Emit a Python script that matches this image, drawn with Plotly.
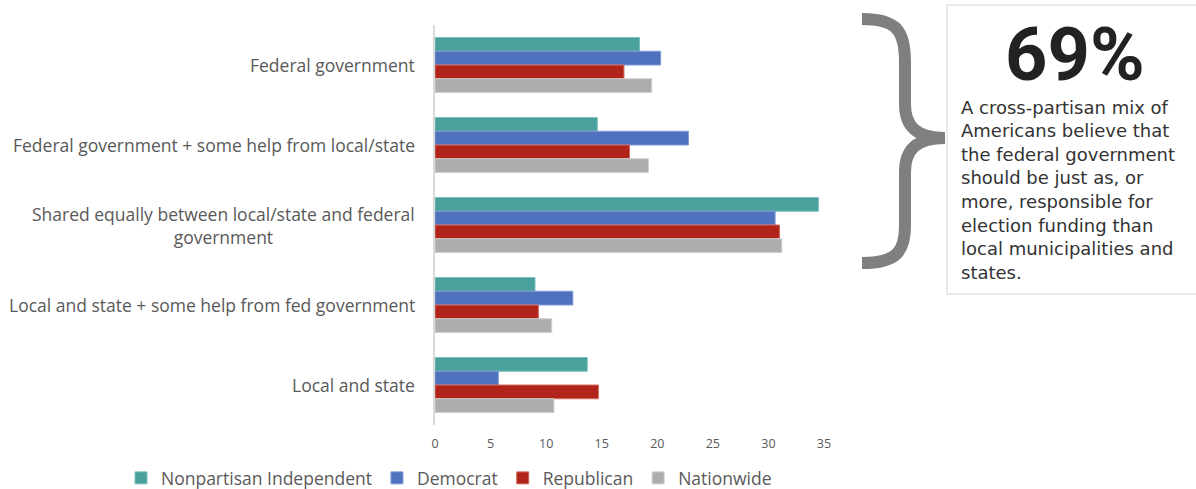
import plotly.graph_objects as go

categories = [
    "Federal government",
    "Federal government + some help from local/state",
    "Shared equally between local/state and federal<br>government",
    "Local and state + some help from fed government",
    "Local and state",
]
series_names = ["Nonpartisan Independent", "Democrat", "Republican", "Nationwide"]
nonpartisan = [18.4, 14.6, 34.5, 9.0, 13.7]
democrat = [20.3, 22.8, 30.6, 12.4, 5.7]
republican = [17.0, 17.5, 31.0, 9.3, 14.7]
nationwide = [19.5, 19.2, 31.2, 10.5, 10.7]
x_ticks = [0, 5, 10, 15, 20, 25, 30, 35]
callout_value = "69%"
callout_lines = [
    "A cross-partisan mix of",
    "Americans believe that",
    "the federal government",
    "should be just as, or",
    "more, responsible for",
    "election funding than",
    "local municipalities and",
    "states.",
]

colors = ["#49a09c", "#4f71be", "#b0241a", "#adadac"]
lines = ["#7cc0bb", "#7d98d6", "#d06a60", "#cfcfcf"]

W, H = 1196, 489


def px(x):
    return x / W


def py(y):
    return 1 - y / H


fig = go.Figure()
for name, vals, c, lc in zip(series_names, [nonpartisan, democrat, republican, nationwide], colors, lines):
    fig.add_trace(go.Bar(
        y=categories, x=vals, name=name, orientation="h",
        marker=dict(color=c, line=dict(color=lc, width=1)),
        hoverinfo="skip",
    ))

fig.update_layout(
    width=W, height=H,
    margin=dict(l=0, r=0, t=0, b=0, autoexpand=False),
    paper_bgcolor="white", plot_bgcolor="white",
    barmode="group", bargap=0.3125, bargroupgap=0,
    font=dict(family="Open Sans", color="#595959"),
    xaxis=dict(
        domain=[px(435), px(824)], range=[0, 35], tickvals=x_ticks,
        showgrid=False, zeroline=False, showline=False, ticks="", automargin=False,
        tickfont=dict(size=12.5, color="#595959"), ticklabelstandoff=9,
    ),
    yaxis=dict(
        domain=[py(425), py(25)], autorange="reversed", automargin=False,
        showticklabels=False, showgrid=False, zeroline=False,
        showline=True, linecolor="#d9d9d9", linewidth=1.5, ticks="",
    ),
    legend=dict(
        orientation="h", x=px(121), y=py(478), xanchor="left", yanchor="middle",
        font=dict(size=17.5, color="#595959"), traceorder="normal",
        itemwidth=30, bgcolor="rgba(0,0,0,0)",
    ),
    showlegend=True,
)

# Category labels
for cat in categories:
    fig.add_annotation(
        x=px(417), xref="paper", y=cat, yref="y", text=cat,
        xanchor="right", yanchor="middle", align="center", showarrow=False,
        font=dict(size=17.5, color="#595959", family="Open Sans"),
    )

# Curly brace
brace = (
    f"M {px(862)},{py(19)} C {px(896)},{py(19)} {px(905)},{py(30)} {px(905)},{py(62)} "
    f"L {px(905)},{py(104)} C {px(905)},{py(126)} {px(916)},{py(138)} {px(945)},{py(138)} "
    f"C {px(916)},{py(138)} {px(905)},{py(150)} {px(905)},{py(172)} "
    f"L {px(905)},{py(226)} C {px(905)},{py(252)} {px(896)},{py(263)} {px(862)},{py(263)}"
)
fig.add_shape(type="path", xref="paper", yref="paper", path=brace,
              line=dict(color="#7f7f7f", width=12), fillcolor="rgba(0,0,0,0)")

# Text box
fig.add_shape(type="rect", xref="paper", yref="paper",
              x0=px(947), x1=px(1210), y0=py(294), y1=py(5),
              line=dict(color="#e3e3e3", width=1.5), fillcolor="white", layer="below")

fig.add_annotation(
    x=px(1075), y=py(55), xref="paper", yref="paper", text=f"<b>{callout_value}</b>",
    xanchor="center", yanchor="middle", showarrow=False,
    font=dict(size=74, color="#222222", family="Roboto"),
)
for i, line in enumerate(callout_lines):
    fig.add_annotation(
        x=px(959), y=py(107 + 23.6 * i), xref="paper", yref="paper",
        text=line, xanchor="left", yanchor="middle", align="left", showarrow=False,
        font=dict(size=18, color="#333333", family="DejaVu Sans"),
    )

fig.write_html(
    "out.html",
    config={"displayModeBar": False},
    post_script="document.body.style.margin='0';document.body.style.overflow='hidden';",
)
